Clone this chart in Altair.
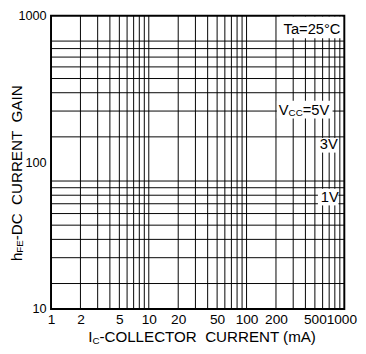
import altair as alt
import pandas as pd

# ---- data ----
x_labels = [1, 2, 5, 10, 20, 50, 100, 200, 500, 1000]
x_domain = [1, 1000]
x_grid = [2, 3, 4, 5, 6, 7, 8, 9, 10,
          20, 30, 40, 50, 60, 70, 80, 90, 100,
          200, 300, 400, 500, 600, 700, 800, 900]
y_labels = [10, 100, 1000]
y_domain = [10, 1000]
y_grid = [20, 30, 40, 50, 60, 70, 80, 90, 100,
          200, 300, 400, 500, 600, 700, 800, 900]
y_grid_domain = [13.4, 1340]

note_temp = "Ta=25°C"
note_vcc = ["V", "CC", "=5V"]
note_3v = "3V"
note_1v = "1V"
x_title = ["I", "C", "-COLLECTOR\u00a0 CURRENT (mA)"]
y_title = ["h", "FE", "-DC\u00a0 CURRENT\u00a0 GAIN"]

FONT = "Liberation Sans"
AW = {" ": 278, "\u00a0": 278, "(": 333, ")": 333, "-": 333, "=": 584, "°": 400,
      "A": 667, "C": 722, "D": 722, "E": 667, "F": 611, "G": 778, "I": 278,
      "L": 556, "N": 722, "O": 778, "R": 722, "T": 611, "U": 722, "V": 667,
      "a": 556, "h": 556, "m": 833}


def tw(s, size):
    return sum(AW.get(ch, 556) for ch in s) * size / 1000.0


one = pd.DataFrame({"_": [0]})

xscale = alt.Scale(type="log", domain=x_domain)

xgrid = alt.Chart(pd.DataFrame({"v": x_grid})).mark_rule(color="black", strokeWidth=1).encode(
    x=alt.X("v:Q", scale=xscale,
            axis=alt.Axis(values=x_labels, title=None, grid=False, ticks=False, domain=False,
                          labelFontSize=14, labelFont=FONT, labelColor="black", labelPadding=4,
                          labelFlush=False, labelOverlap=False, format="d",
                          labelOffset={"condition": {"test": "datum.value >= 1000", "value": -3},
                                       "value": 0}))
)

ygrid = alt.Chart(pd.DataFrame({"v": y_grid})).mark_rule(color="black", strokeWidth=1).encode(
    y=alt.Y("v:Q", scale=alt.Scale(type="log", domain=y_grid_domain), axis=None)
)

ylab = alt.Chart(pd.DataFrame({"v": y_labels})).mark_point(opacity=0).encode(
    y=alt.Y("v:Q", scale=alt.Scale(type="log", domain=y_domain),
            axis=alt.Axis(orient="left", values=y_labels, title=None, grid=False, ticks=False,
                          domain=False, labelFontSize=13, labelFont=FONT, labelColor="black",
                          labelPadding=5, labelOverlap=False, format="d"))
)


def box(x1, x2, y1, y2):
    return alt.Chart(one).mark_rect(color="white").encode(
        x=alt.value(x1), x2=alt.value(x2), y=alt.value(y1), y2=alt.value(y2))


def txt(s, x, y, size=15, align="left", angle=0, dy=0):
    return alt.Chart(one).mark_text(text=s, font=FONT, fontSize=size, align=align,
                                    baseline="alphabetic", color="black", angle=angle, dy=dy).encode(
        x=alt.value(x), y=alt.value(y))


def pieces(parts, sizes, dys, x0, y0, angle=0):
    out = []
    off = 0.0
    for s, sz, d in zip(parts, sizes, dys):
        if angle == 0:
            out.append(txt(s, x0 + off, y0, size=sz, dy=d))
        else:
            out.append(txt(s, x0, y0 - off, size=sz, angle=angle, dy=d))
        off += tw(s, sz)
    return out


layers = [xgrid, ygrid, ylab,
          box(234, 298, 1, 23),
          box(231, 288, 87, 105),
          box(272, 294, 125, 140),
          box(273, 294, 177, 194),
          txt(note_temp, 296, 18.5, size=15, align="right"),
          txt(note_3v, 275, 136.5, size=15),
          txt(note_1v, 276, 190.5, size=15)]
layers += pieces(note_vcc, [15, 10, 15], [0, 1.5, 0], 233, 101.5)
layers += pieces(x_title, [15.5, 10, 15.5], [0, 1.5, 0], 38, 334)
layers += pieces(y_title, [15.5, 10, 15.5], [0, 1.5, 0], -30, 251, angle=270)

chart = alt.layer(*layers).resolve_scale(y="independent").properties(
    width=300, height=300,
    padding={"left": 44, "top": 4, "right": 14, "bottom": 38},
    autosize=alt.AutoSizeParams(type="none"),
    background="white",
).configure_view(stroke="black", strokeWidth=2)

chart.save("out.html", embed_options={"renderer": "svg", "actions": False})
